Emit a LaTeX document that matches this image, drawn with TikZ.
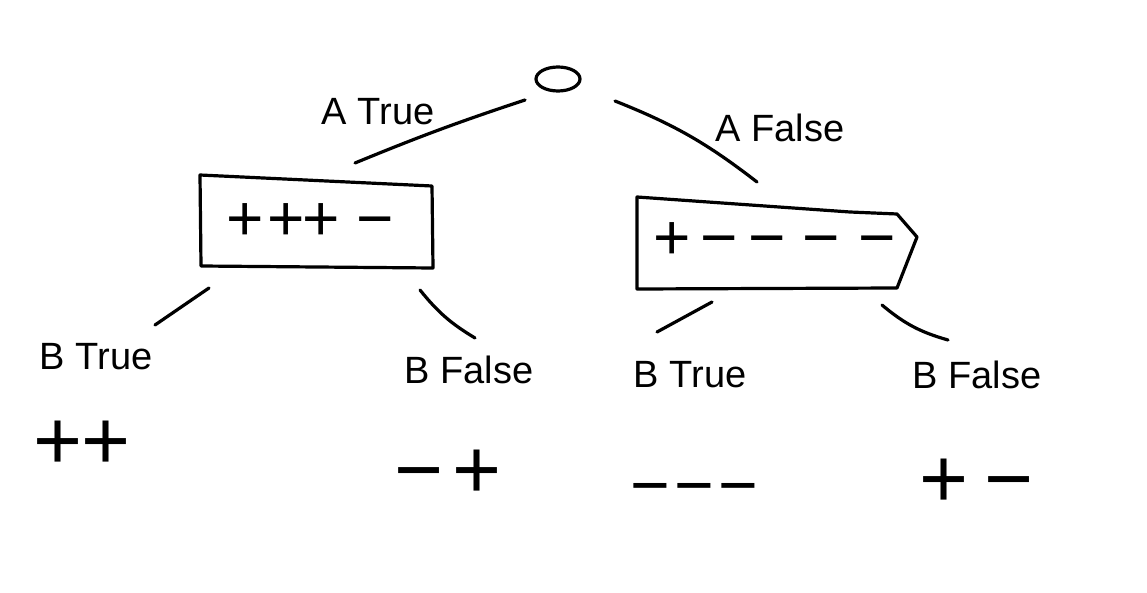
\documentclass[tikz,border=0pt]{standalone}
\usepackage{fontspec}
\setmainfont{Liberation Sans}
\usetikzlibrary{shapes.geometric}
\begin{document}
\begin{tikzpicture}[x=1pt,y=-1pt,
  stroke/.style={line width=3.2pt, line cap=round, line join=round},
  lbl/.style={font=\fontsize{38}{42}\selectfont, inner sep=0pt},
  sym/.style={font=\fontsize{64}{68}\selectfont, inner sep=0pt},
  bigsym/.style={font=\fontsize{84}{88}\selectfont, inner sep=0pt}]
\useasboundingbox[fill=white] (0,0) rectangle (1147,593);

% root
\node (root) [ellipse, draw, stroke, minimum width=44pt, minimum height=24pt, inner sep=0pt] at (558,79) {};

% boxes (text nodes + hand-drawn outlines)
\node (lbox) [sym] at (310,222) {+\hspace{3.6pt}+\hspace{-2.4pt}+\hspace{16.6pt}−};
\draw[stroke] (200,175) -- (432,186) -- (433,268) -- (201,266) -- cycle;
\node (rbox) [sym] at (774.5,241) {+\hspace{9.6pt}−\hspace{10.6pt}−\hspace{16.6pt}−\hspace{18.6pt}−};
\draw[stroke] (637,197) -- (850,212) -- (897,214) -- (917,237) -- (897,288) -- (637,289) -- cycle;

% branch labels
\node (at) [lbl] at (378,112) {A True};
\node (af) [lbl] at (780,128) {A False};
\node (bt1) [lbl] at (96,357) {B True};
\node (bf1) [lbl] at (469,370) {B False};
\node (bt2) [lbl] at (690,375) {B True};
\node (bf2) [lbl] at (977,375) {B False};

% leaves
\node (l1) [bigsym] at (82,445) {+\hspace{-1pt}+};
\node (l2) [bigsym] at (448,474) {−\hspace{9pt}+};
\node (l3) [font=\fontsize{68}{72}\selectfont, inner sep=0pt] at (694,496) {−\hspace{4.3pt}−\hspace{4.3pt}−};
\node (l4) [bigsym] at (977,483) {+\hspace{16pt}−};

% connector end points
\coordinate (c1) at (355,163); \coordinate (c2) at (525,100);
\coordinate (c3) at (615,101); \coordinate (c4) at (757,182);
\coordinate (c5) at (209,288); \coordinate (c6) at (155,325);
\coordinate (c7) at (420,290); \coordinate (c8) at (475,338);
\coordinate (c9) at (712,302); \coordinate (c10) at (657,332);
\coordinate (c11) at (882,305); \coordinate (c12) at (948,340);

\draw[stroke] (c1) to[bend left=2] (c2);
\draw[stroke] (c3) to[bend left=8] (c4);
\draw[stroke] (c5) -- (c6);
\draw[stroke] (c7) to[bend right=10] (c8);
\draw[stroke] (c9) -- (c10);
\draw[stroke] (c11) to[bend right=12] (c12);
\end{tikzpicture}
\end{document}
